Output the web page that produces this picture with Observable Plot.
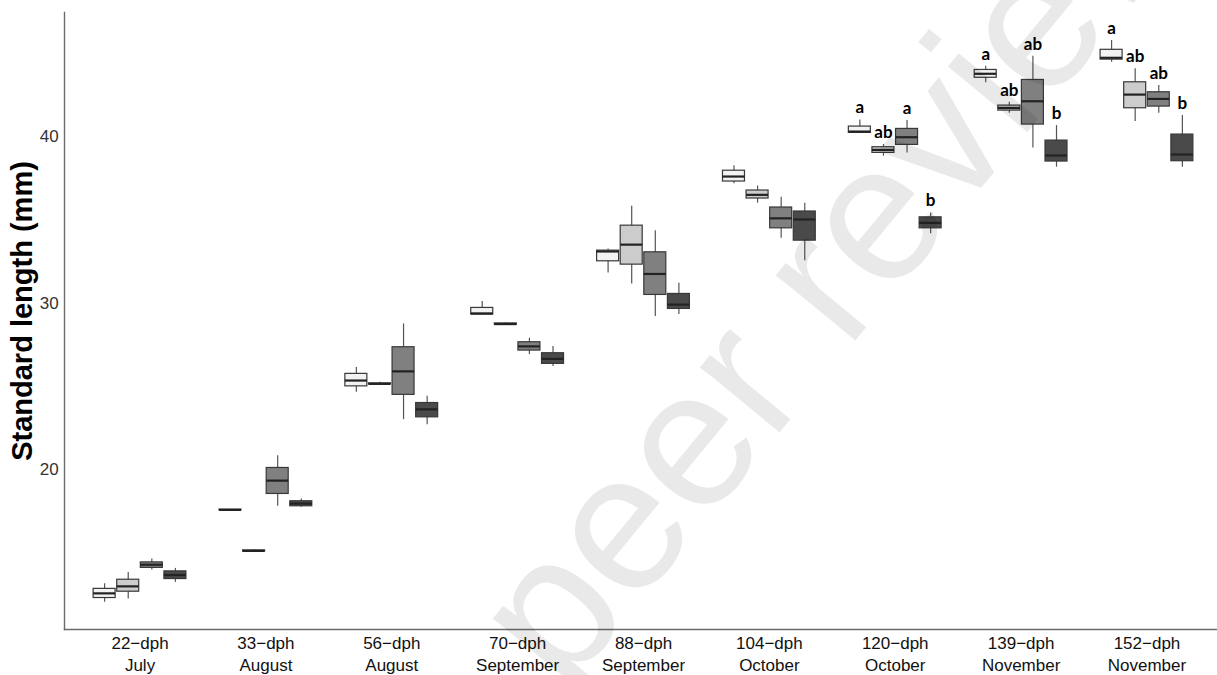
<!DOCTYPE html>
<html>
<head>
<meta charset="utf-8">
<script src="https://cdn.jsdelivr.net/npm/d3@7"></script>
<script src="https://cdn.jsdelivr.net/npm/@observablehq/plot@0.6"></script>
<style>
  html, body { margin: 0; padding: 0; background: #fff; overflow: hidden; }
  #wrap { position: relative; width: 1217px; height: 675px; overflow: hidden; }
  #wrap svg { max-width: none !important; }
  #wm { position: absolute; left: 0; top: 0; pointer-events: none; }
</style>
</head>
<body>
<div id="wrap"></div>
<script>
// ---- data ----
const days = ["22\u2212dph", "33\u2212dph", "56\u2212dph", "70\u2212dph", "88\u2212dph", "104\u2212dph", "120\u2212dph", "139\u2212dph", "152\u2212dph"];
const months = ["July", "August", "August", "September", "September", "October", "October", "November", "November"];
const treatments = ["T1", "T2", "T3", "T4"];
const fills = ["#f2f2f2", "#cccccc", "#808080", "#4a4a4a"];

// per group (in order of days), per treatment T1..T4
const lo = [
  12.03, 12.23, 13.98, 13.23,
  17.55, 15.05, 17.80, 17.74,
  24.64, 25.08, 23.00, 22.70,
  29.25, 28.68, 26.91, 26.20,
  31.81, 31.15, 29.19, 29.31,
  37.16, 36.00, 33.89, 32.55,
  40.18, 38.82, 39.02, 34.16,
  43.23, 41.40, 39.32, 38.16,
  44.46, 40.90, 41.40, 38.16
];
const q1 = [
  12.29, 12.67, 14.10, 13.43,
  17.56, 15.08, 18.54, 17.80,
  25.00, 25.12, 24.49, 23.14,
  29.31, 28.70, 27.15, 26.35,
  32.51, 32.31, 30.49, 29.65,
  37.30, 36.28, 34.49, 33.75,
  40.22, 39.02, 39.50, 34.49,
  43.53, 41.56, 40.72, 38.50,
  44.62, 41.70, 41.80, 38.52
];
const med = [
  12.57, 12.99, 14.29, 13.67,
  17.58, 15.12, 19.34, 17.96,
  25.35, 25.15, 25.90, 23.62,
  29.38, 28.74, 27.40, 26.65,
  33.10, 33.51, 31.75, 29.91,
  37.60, 36.50, 35.09, 35.02,
  40.30, 39.20, 39.96, 34.82,
  43.77, 41.72, 42.12, 38.86,
  44.73, 42.52, 42.26, 38.92
];
const q3 = [
  12.84, 13.39, 14.43, 13.89,
  17.60, 15.15, 20.10, 18.10,
  25.75, 25.18, 27.35, 24.00,
  29.71, 28.78, 27.65, 26.99,
  33.15, 34.65, 33.05, 30.55,
  37.95, 36.76, 35.74, 35.50,
  40.60, 39.36, 40.46, 35.15,
  44.00, 41.86, 43.40, 39.76,
  45.21, 43.26, 42.66, 40.12
];
const hi = [
  13.14, 13.83, 14.64, 14.07,
  17.62, 15.20, 20.84, 18.24,
  26.14, 25.25, 28.75, 24.40,
  30.09, 28.82, 27.89, 27.39,
  33.25, 35.81, 34.35, 31.19,
  38.25, 37.03, 36.35, 36.00,
  41.00, 39.52, 40.96, 35.41,
  44.22, 42.06, 44.82, 40.66,
  45.77, 44.07, 43.06, 41.26
];
const letters = [
  "", "", "", "",
  "", "", "", "",
  "", "", "", "",
  "", "", "", "",
  "", "", "", "",
  "", "", "", "",
  "a", "ab", "a", "b",
  "a", "ab", "ab", "b",
  "a", "ab", "ab", "b"
];
const yTicks = [20, 30, 40];
const yTitle = "Standard length (mm)";
const watermark = "peer review";

// ---- table built from the arrays ----
const rows = days.flatMap((day, i) => treatments.map((trt, j) => {
  const k = i * 4 + j;
  return {day, trt, lo: lo[k], q1: q1[k], med: med[k], q3: q3[k], hi: hi[k], letter: letters[k]};
}));

// facet bands: step = (width - marginLeft) / 9.2 ; outer padding 0.2 step
const W = 1222, ML = 64;
const outerGap = 0.2 * (W - ML) / 9.2;

const chart = Plot.plot({
  width: W,
  height: 675,
  marginLeft: ML,
  marginRight: 0,
  marginTop: 12,
  marginBottom: 46,
  style: {fontFamily: "'Liberation Sans', Arial, sans-serif", fontSize: "17px", color: "#333", background: "transparent"},
  fx: {domain: days, paddingInner: 0.2, paddingOuter: 0.2, round: false, label: null},
  x: {domain: treatments, paddingInner: 0.0678, paddingOuter: 0.1675, round: false, axis: null},
  y: {domain: [10.4, 47.45], label: null},
  color: {domain: treatments, range: fills},
  marks: [
    Plot.ruleX(rows, {fx: "day", x: "trt", y1: "lo", y2: "hi", stroke: "#555", strokeWidth: 1.2}),
    Plot.barY(rows, {fx: "day", x: "trt", y1: "q1", y2: "q3", fill: "trt", stroke: "#383838", strokeWidth: 1.2}),
    Plot.tickY(rows, {fx: "day", x: "trt", y: "med", stroke: "#222", strokeWidth: 2.2}),
    Plot.text(rows.filter(d => d.letter), {fx: "day", x: "trt", y: "hi", text: "letter", dy: -12, fontWeight: "bold", fontSize: 17, fontFamily: "Lato, 'Open Sans', sans-serif", fill: "#000"}),
    Plot.frame({anchor: "left", facet: "super", insetLeft: -outerGap, stroke: "#6b6b6b", strokeWidth: 1.4}),
    Plot.frame({anchor: "bottom", facet: "super", insetLeft: -outerGap, insetRight: -outerGap, stroke: "#6b6b6b", strokeWidth: 1.4}),
    Plot.axisY({ticks: yTicks, tickSize: 0, tickPadding: 31, fontSize: 17, label: null, fill: "#333"}),
    Plot.text([yTitle], {facet: "super", frameAnchor: "left", textAnchor: "middle", dx: -66.5, dy: -10, rotate: -90, fontWeight: "bold", fontSize: 29, fill: "#000"}),
    Plot.axisFx({anchor: "bottom", tickSize: 0, tickPadding: 4, fontSize: 17, lineHeight: 1.3, fill: "#111", label: null,
      tickFormat: d => d + "\n" + months[days.indexOf(d)]})
  ]
});

const wrap = document.getElementById("wrap");
wrap.appendChild(chart);

// watermark overlay (real text)
const ns = "http://www.w3.org/2000/svg";
const wm = document.createElementNS(ns, "svg");
wm.setAttribute("id", "wm");
wm.setAttribute("width", 1217);
wm.setAttribute("height", 675);
const t = document.createElementNS(ns, "text");
t.setAttribute("x", 564);
t.setAttribute("y", 694);
t.setAttribute("transform", "rotate(-50.5 564 694)");
t.setAttribute("font-size", 195);
t.setAttribute("font-family", "'Liberation Sans', Arial, sans-serif");
t.setAttribute("fill", "rgba(0,0,0,0.085)");
t.textContent = watermark;
wm.appendChild(t);
wrap.appendChild(wm);
</script>
</body>
</html>
